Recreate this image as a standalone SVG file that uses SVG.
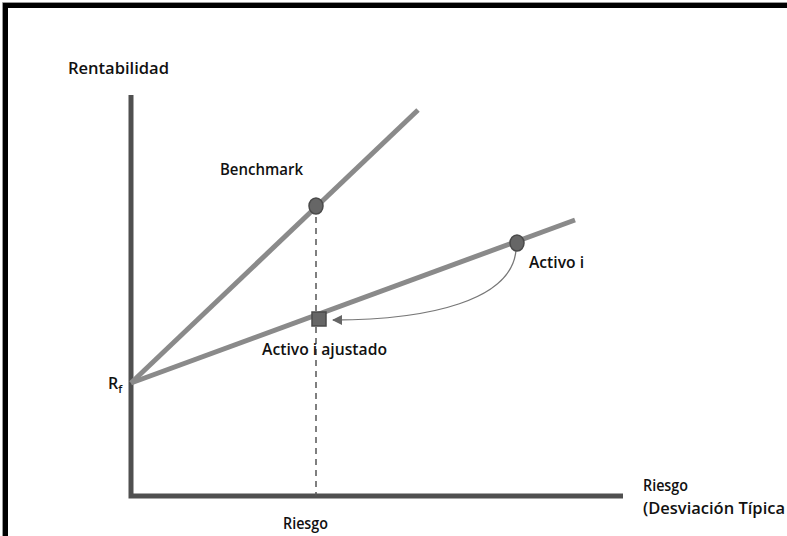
<svg xmlns="http://www.w3.org/2000/svg" width="787" height="536" viewBox="0 0 787 536">
<style>
.t{font-family:"Open Sans","Liberation Sans",sans-serif;font-size:16px;font-weight:600;fill:#111}
.ax{stroke:#505050;stroke-width:5;fill:none}
.ln{stroke:#8a8a8a;stroke-width:5;fill:none}
.pt{fill:#666;stroke:#4a4a4a;stroke-width:1.5}
</style>
<defs>
<marker id="ah" viewBox="0 0 10 10" refX="9" refY="5" markerWidth="10" markerHeight="10" markerUnits="userSpaceOnUse" orient="auto">
<path d="M0,0 L10,5 L0,10 z" fill="#666"/>
</marker>
</defs>
<rect width="787" height="536" fill="#fff"/>
<path d="M5.5,536 V5.5 H787" fill="none" stroke="#000" stroke-width="5"/>
<path d="M2.5,536 V2.5 H787" fill="none" stroke="#999" stroke-width="1"/>
<g id="connectors">
<path class="ax" d="M131,95 V496 H623"/>
<path class="ln" d="M131,383 L418,110"/>
<path class="ln" d="M131,383 L575,220"/>
<path d="M316,206 V496" stroke="#555" stroke-width="1.5" stroke-dasharray="6,5" fill="none"/>
<path d="M516,250 C512,300 430,320 333,320" stroke="#777" stroke-width="1.3" fill="none" marker-end="url(#ah)"/>
</g>
<g id="benchmark">
<ellipse class="pt" cx="316" cy="206" rx="7" ry="8"/>
<text class="t" x="220" y="175" textLength="83" lengthAdjust="spacingAndGlyphs">Benchmark</text>
</g>
<g id="activo-i">
<ellipse class="pt" cx="517" cy="243" rx="7" ry="8"/>
<text class="t" x="529" y="268" textLength="55" lengthAdjust="spacingAndGlyphs">Activo i</text>
</g>
<g id="activo-i-ajustado">
<rect class="pt" x="312" y="312" width="14" height="14"/>
<text class="t" x="262" y="355" textLength="125" lengthAdjust="spacingAndGlyphs">Activo i ajustado</text>
</g>
<g id="rf">
<text class="t" x="108" y="389">R<tspan font-size="11" dy="4">f</tspan></text>
</g>
<g id="labels">
<text class="t" x="68" y="74" textLength="101" lengthAdjust="spacingAndGlyphs">Rentabilidad</text>
<text class="t" x="643" y="491" textLength="45" lengthAdjust="spacingAndGlyphs">Riesgo</text>
<text class="t" x="643" y="514" textLength="142" lengthAdjust="spacingAndGlyphs">(Desviación Típica</text>
<text class="t" x="283" y="529" textLength="45" lengthAdjust="spacingAndGlyphs">Riesgo</text>
</g>
</svg>
